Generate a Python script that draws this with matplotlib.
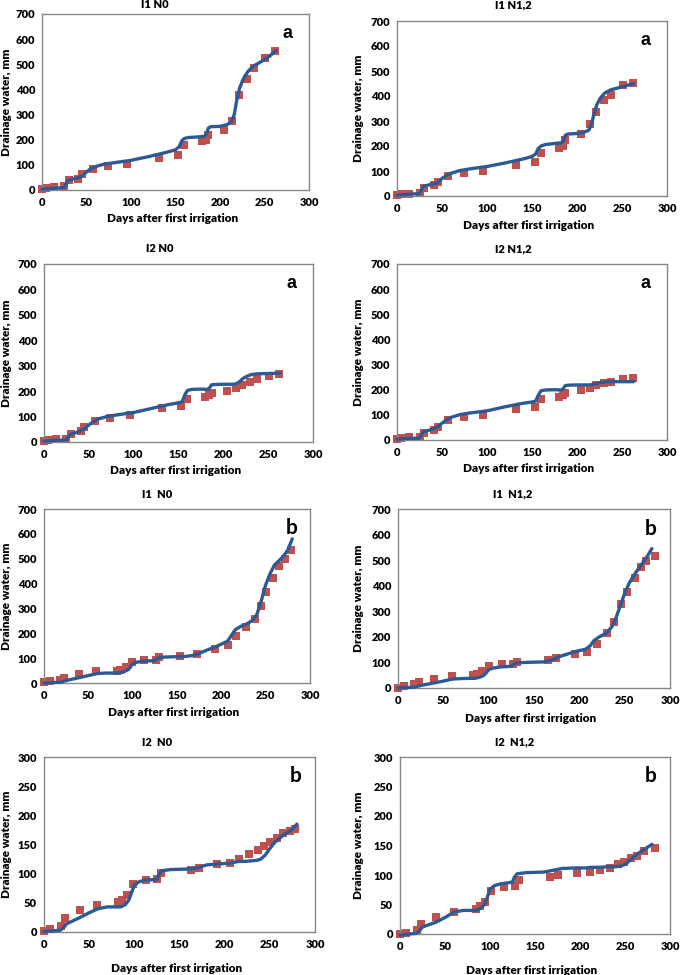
import matplotlib
matplotlib.use('Agg')
import matplotlib.pyplot as plt

# ---- panel data (days after first irrigation, drainage mm) ----
# row 1 / row 2: "a" set, row 3 / row 4: "b" set
titles = ["I1 N0", "I1 N1,2", "I2 N0", "I2 N1,2",
          "I1  N0", "I1  N1,2", "I2  N0", "I2  N1,2"]
letters = ["a", "a", "a", "a", "b", "b", "b", "b"]
ymax = [700, 700, 700, 700, 700, 700, 300, 300]

obs_day_a = [0, 4, 13, 25, 30, 41, 45, 57, 74, 96, 132, 153, 160, 180, 184, 187,
             204, 214, 221, 230, 238, 251, 262]
i1n0_a_obs = [5, 8, 12, 14, 38, 45, 62, 85, 95, 103, 128, 140, 178, 195, 200, 218,
              240, 275, 377, 440, 485, 525, 553]
i1n12_a_obs = [3, 7, 10, 12, 32, 43, 56, 79, 92, 101, 123, 136, 172, 193, 200, 225,
               249, 289, 335, 383, 405, 443, 451]
i2n0_a_obs = [4, 6, 10, 12, 33, 43, 59, 83, 96, 105, 134, 142, 171, 177, 183, 193,
              200, 212, 226, 234, 247, 260, 268]
i2n12_a_obs = [4, 7, 12, 13, 29, 40, 53, 80, 93, 98, 125, 133, 164, 172, 178, 188,
               199, 207, 218, 227, 232, 243, 248]

sim_day_a = [0, 10, 25, 27, 29, 35, 40, 45, 50, 55, 60, 70, 80, 100, 120, 140, 150,
             154, 157, 160, 165, 175, 183, 185, 187, 190, 200, 208, 213, 216, 219,
             222, 226, 231, 237, 245, 255, 263]
i1n0_a_sim = [3, 6, 10, 22, 38, 44, 48, 55, 72, 85, 93, 103, 108, 118, 133, 150, 160,
              172, 195, 205, 209, 211, 214, 225, 247, 252, 253, 260, 272, 300, 360,
              405, 440, 470, 492, 508, 530, 555]
i1n12_a_sim = [3, 6, 10, 22, 38, 44, 48, 53, 70, 82, 91, 102, 108, 118, 132, 148, 158,
               168, 190, 200, 206, 210, 213, 222, 243, 248, 250, 255, 263, 285, 330,
               365, 392, 412, 424, 432, 442, 450]
i2n0_a_sim = [3, 6, 8, 20, 30, 36, 43, 52, 67, 80, 90, 100, 106, 116, 132, 148, 154,
              158, 185, 203, 207, 208, 207, 215, 225, 226, 227, 227, 228, 232, 240,
              250, 258, 265, 268, 269, 270, 270]
i2n12_a_sim = [3, 6, 7, 20, 32, 38, 44, 52, 67, 80, 90, 101, 107, 116, 132, 146, 151,
               155, 178, 196, 199, 200, 199, 206, 216, 218, 219, 219, 219, 220, 222,
               224, 228, 231, 232, 232, 232, 232]

i1n0_b_obs_day = [0, 7, 18, 23, 39, 59, 82, 86, 92, 99, 113, 126, 130, 153, 172,
                  193, 207, 217, 228, 238, 245, 250, 258, 265, 272, 279]
i1n0_b_obs = [4, 8, 13, 22, 36, 47, 48, 54, 66, 85, 92, 92, 105, 109, 118, 135, 153,
              188, 226, 256, 310, 368, 424, 471, 499, 536]
i1n12_b_obs_day = [0, 7, 18, 23, 40, 60, 83, 87, 93, 100, 115, 127, 131, 165, 174,
                   195, 209, 220, 231, 238, 246, 253, 261, 268, 274, 283]
i1n12_b_obs = [1, 7, 14, 24, 34, 48, 51, 56, 67, 85, 93, 93, 103, 109, 118, 132, 140,
               174, 216, 260, 327, 377, 429, 473, 497, 518]
i2n0_b_obs_day = [0, 7, 19, 23, 40, 59, 82, 86, 92, 99, 113, 125, 129, 163, 172, 192,
                  206, 216, 227, 237, 244, 250, 258, 265, 272, 278]
i2n0_b_obs = [1, 5, 10, 24, 37, 47, 51, 55, 63, 82, 90, 91, 101, 106, 110, 116, 118,
              126, 134, 141, 147, 155, 162, 170, 173, 177]
i2n12_b_obs_day = [0, 7, 19, 23, 40, 60, 84, 89, 95, 101, 116, 128, 132, 167, 176,
                   197, 211, 222, 233, 242, 249, 257, 263, 271, 283]
i2n12_b_obs = [0, 2, 6, 17, 28, 38, 43, 47, 55, 73, 80, 81, 91, 96, 100, 103, 105,
               108, 112, 118, 122, 128, 133, 140, 145]

sim_day_b = [0, 10, 18, 22, 25, 40, 50, 60, 70, 85, 90, 94, 97, 100, 105, 112, 125,
             127, 130, 140, 160, 170, 180, 195, 207, 212, 216, 222, 230, 236, 240,
             245, 250, 255, 260, 265, 270, 275, 280]
i1n0_b_sim = [0, 2, 3, 7, 10, 22, 30, 38, 40, 40, 45, 52, 62, 78, 84, 88, 90, 97, 103,
              105, 107, 112, 127, 148, 168, 195, 215, 228, 240, 255, 275, 330, 395,
              440, 475, 492, 510, 535, 580]
i1n12_b_sim = [0, 2, 3, 7, 10, 20, 27, 35, 37, 38, 42, 48, 58, 72, 78, 82, 85, 92, 98,
               100, 102, 110, 125, 142, 152, 165, 185, 200, 215, 240, 270, 320, 370,
               410, 440, 465, 490, 515, 545]
i2n0_b_sim = [1, 2, 3, 8, 14, 25, 33, 40, 43, 43, 47, 55, 68, 80, 86, 89, 90, 98, 105,
              107, 108, 110, 115, 117, 118, 120, 121, 121, 122, 123, 125, 132, 143, 153,
              160, 166, 171, 176, 185]
i2n12_b_sim = [-2, 0, 1, 6, 12, 20, 28, 37, 40, 40, 44, 50, 62, 76, 82, 85, 88, 96, 102,
               104, 105, 108, 111, 112, 112, 113, 113, 113, 114, 114, 114, 115, 118,
               124, 131, 137, 142, 147, 152]

panels = [
    (obs_day_a, i1n0_a_obs, sim_day_a, i1n0_a_sim),
    (obs_day_a, i1n12_a_obs, sim_day_a, i1n12_a_sim),
    (obs_day_a, i2n0_a_obs, sim_day_a, i2n0_a_sim),
    (obs_day_a, i2n12_a_obs, sim_day_a, i2n12_a_sim),
    (i1n0_b_obs_day, i1n0_b_obs, sim_day_b, i1n0_b_sim),
    (i1n12_b_obs_day, i1n12_b_obs, sim_day_b, i1n12_b_sim),
    (i2n0_b_obs_day, i2n0_b_obs, sim_day_b, i2n0_b_sim),
    (i2n12_b_obs_day, i2n12_b_obs, sim_day_b, i2n12_b_sim),
]

# ---- layout in pixels (left, top, right, bottom) ----
W, H = 685, 975
boxes = [(42, 14, 309, 190), (397, 21, 667, 196),
         (44, 264, 313, 442), (397, 264, 667, 440),
         (44, 509, 310, 683), (398, 509, 670, 688),
         (44, 757, 315, 932), (400, 757, 670, 934)]
title_pos = [(155, 5), (513, 5), (160, 249), (513, 249),
             (157, 494), (513, 494), (157, 742), (515, 742)]
ylab_x = [7, 358, 7, 358, 7, 358, 7, 358]
xlab_dy = [29, 29, 29, 29, 30, 30, 36, 36]

FONT = 'Lato'
fig = plt.figure(figsize=(W / 100, H / 100), dpi=100)

for i, (od, ov, sd, sv) in enumerate(panels):
    l, t, r, b = boxes[i]
    ax = fig.add_axes([l / W, 1 - b / H, (r - l) / W, (b - t) / H])
    ax.plot(od, ov, 's', color='#C0504D', markersize=5.5, markeredgewidth=0,
            zorder=2, clip_on=False)
    ax.plot(sd, sv, '-', color='#2B5A94', lw=2.4, zorder=3, solid_capstyle='round',
            clip_on=False)
    ax.set_xlim(0, 300)
    ax.set_ylim(0, ymax[i])
    ax.set_xticks(range(0, 301, 50))
    ax.set_yticks(range(0, ymax[i] + 1, 100 if ymax[i] == 700 else 50))
    ax.tick_params(length=0, pad=5, labelsize=8)
    for lab in ax.get_xticklabels() + ax.get_yticklabels():
        lab.set_fontfamily(FONT)
        lab.set_fontweight('heavy')
    for s in ax.spines.values():
        s.set_color('#868686')
        s.set_linewidth(1)

    if letters[i] == 'a':
        ax.text(0.92, 0.89, 'a', transform=ax.transAxes, ha='center', va='center',
                fontsize=13, fontweight='bold', family='Liberation Sans')
    else:
        ax.text(0.93, 0.89, 'b', transform=ax.transAxes, ha='center', va='center',
                fontsize=15, fontweight='bold', family=FONT)

    tx, ty = title_pos[i]
    fig.text(tx / W, 1 - ty / H, titles[i], ha='center', va='center',
             fontsize=8, fontweight='heavy', family=FONT)
    fig.text(ylab_x[i] / W, 1 - ((t + b) / 2) / H, 'Drainage water, mm',
             rotation=90, ha='center', va='center', fontsize=8.5,
             fontweight='heavy', family=FONT)
    fig.text(((l + r) / 2 - 3) / W, 1 - (b + xlab_dy[i]) / H,
             'Days after first irrigation', ha='center', va='center',
             fontsize=8.5, fontweight='heavy', family=FONT)

fig.savefig('out.png', dpi=100)
